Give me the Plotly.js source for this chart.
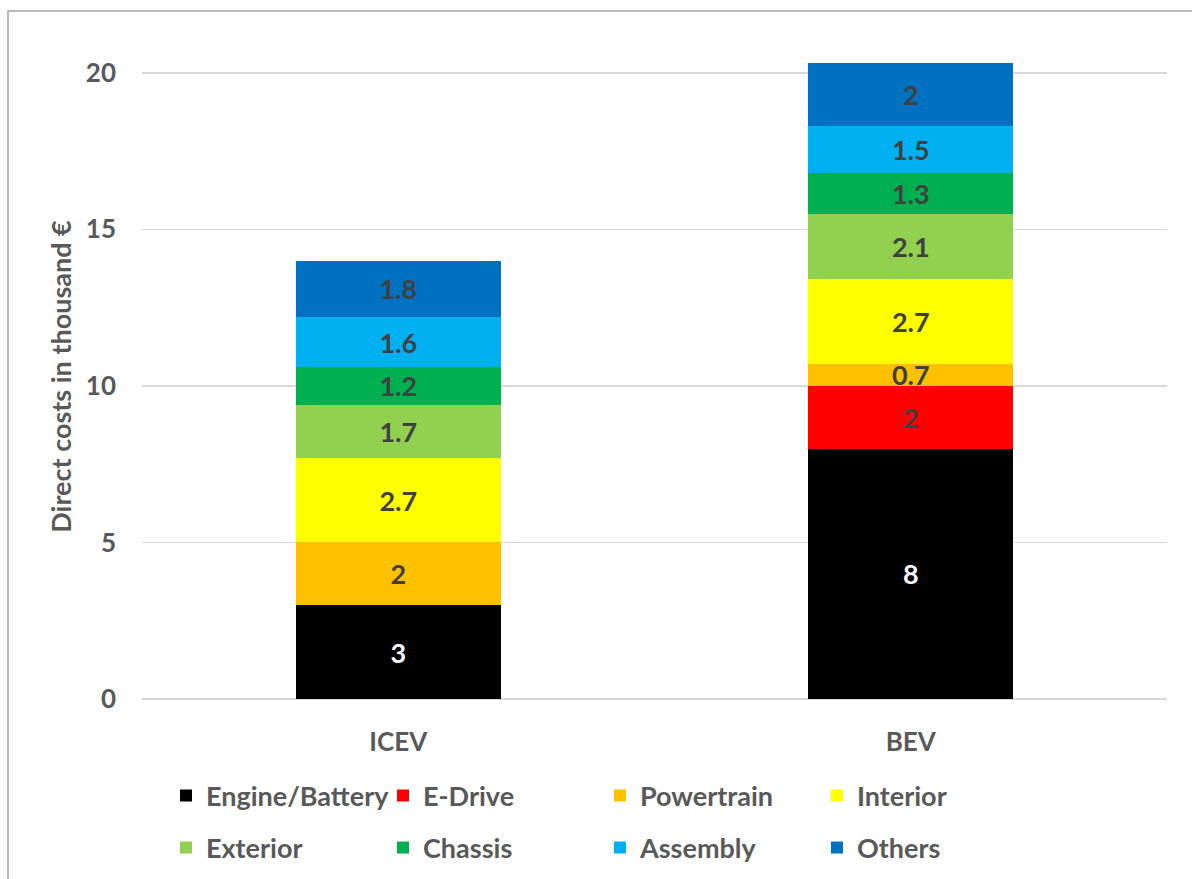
<!DOCTYPE html>
<html>
<head>
<meta charset="utf-8">
<script src="https://cdn.plot.ly/plotly-3.0.1.min.js"></script>
<style>html,body{margin:0;padding:0;background:#fff;}#chart{width:1192px;height:879px;}</style>
</head>
<body>
<div id="chart"></div>
<script>
const categories = ["ICEV", "BEV"];
const components = ["Engine/Battery", "E-Drive", "Powertrain", "Interior", "Exterior", "Chassis", "Assembly", "Others"];
const engineBattery = [3, 8];
const eDrive = [0, 2];
const powertrain = [2, 0.7];
const interior = [2.7, 2.7];
const exterior = [1.7, 2.1];
const chassis = [1.2, 1.3];
const assembly = [1.6, 1.5];
const others = [1.8, 2];
const yTicks = [0, 5, 10, 15, 20];

const series = [engineBattery, eDrive, powertrain, interior, exterior, chassis, assembly, others];
const colors = ["#000000", "#FF0000", "#FFC000", "#FFFF00", "#92D050", "#00B050", "#00B0F0", "#0070C0"];
const FONT = "Lato, 'Open Sans', sans-serif";
const W = 1192, H = 879;

const traces = series.map((vals, i) => ({
  type: "bar",
  name: components[i],
  x: categories,
  y: vals,
  text: vals.map(v => v ? String(v) : ""),
  textposition: "inside",
  insidetextanchor: "middle",
  textangle: 0,
  constraintext: "none",
  textfont: {family: FONT, size: 27, color: i === 0 ? "#FFFFFF" : "#404040", weight: "bold"},
  marker: {color: colors[i], line: {width: 0}},
  hoverinfo: "x+y+name",
  legend: i < 4 ? "legend" : "legend2"
}));

const legendCommon = {
  orientation: "h",
  xref: "container",
  yref: "container",
  xanchor: "left",
  yanchor: "middle",
  x: 166 / W,
  traceorder: "normal",
  entrywidth: 172,
  entrywidthmode: "pixels",
  font: {family: FONT, size: 27, color: "#595959", weight: "bold"},
  bgcolor: "rgba(0,0,0,0)"
};

const plotTop = 54, plotBottom = 699, plotLeft = 142, plotRight = 1167;
const py = y => (plotBottom - y) / (plotBottom - plotTop);
const px = x => (x - plotLeft) / (plotRight - plotLeft);

const layout = {
  width: W,
  height: H,
  margin: {l: plotLeft, r: W - plotRight, t: plotTop, b: H - plotBottom, pad: 0},
  paper_bgcolor: "#FFFFFF",
  plot_bgcolor: "#FFFFFF",
  barmode: "stack",
  bargap: 0.6,
  uniformtext: {mode: "show", minsize: 27},
  xaxis: {
    type: "category",
    showgrid: false,
    zeroline: false,
    showline: false,
    ticks: "",
    ticklabelstandoff: 25,
    tickfont: {family: FONT, size: 26, color: "#595959", weight: "bold"}
  },
  yaxis: {
    range: [0, 20.6],
    tickvals: yTicks,
    ticktext: yTicks.map(String),
    showgrid: true,
    gridcolor: "#D9D9D9",
    gridwidth: 1.5,
    zeroline: true,
    zerolinecolor: "#D9D9D9",
    zerolinewidth: 1.5,
    showline: false,
    ticks: "",
    ticklabelstandoff: 25,
    tickfont: {family: FONT, size: 26, color: "#595959", weight: "bold"},
    title: {text: "Direct costs in thousand €", standoff: 6, font: {family: FONT, size: 27, color: "#595959", weight: "bold"}}
  },
  legend: Object.assign({}, legendCommon, {y: 1 - 796 / H}),
  legend2: Object.assign({}, legendCommon, {y: 1 - 848 / H}),
  showlegend: true,
  shapes: [{
    type: "rect", xref: "paper", yref: "paper",
    x0: px(8), x1: px(1230), y0: py(11), y1: py(920),
    line: {color: "#A6A6A6", width: 1.5}, fillcolor: "rgba(0,0,0,0)", layer: "below"
  }]
};

Plotly.newPlot("chart", traces, layout, {displayModeBar: false, staticPlot: true});
</script>
</body>
</html>
